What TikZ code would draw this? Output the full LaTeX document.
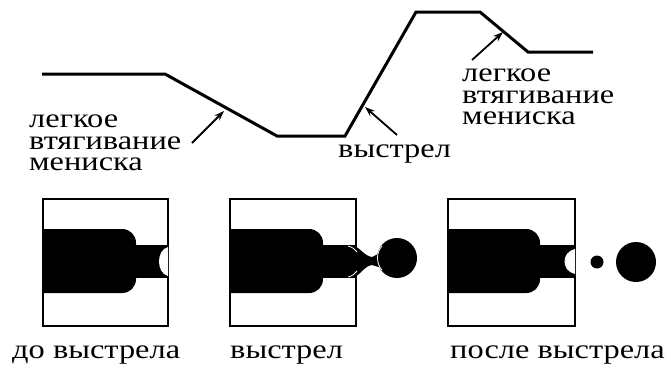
\documentclass[tikz,border=0pt]{standalone}
\usepackage{fontspec}
\setmainfont{Liberation Serif}
\usetikzlibrary{arrows.meta}

\begin{document}
\begin{tikzpicture}[x=1pt,y=-1pt,
  wave/.style={line width=3pt, line join=miter},
  pointer/.style={line width=1.8pt, -{Stealth[length=10pt,width=7pt]}},
  lbl/.style={font=\fontsize{27}{21.5}\selectfont, inner sep=0pt, align=left, xscale=1.2, transform shape},
  frame/.style={line width=2pt},
  ink/.style={fill=black, draw=none},
  gap/.style={fill=white, draw=none},
]
\useasboundingbox (0,0) rectangle (671,373);

% drive waveform
\coordinate (w0) at (42,74);
\coordinate (w1) at (165,74);
\coordinate (w2) at (277,136);
\coordinate (w3) at (345,136);
\coordinate (w4) at (416,12);
\coordinate (w5) at (480,12);
\coordinate (w6) at (528,52);
\coordinate (w7) at (593,52);
\draw[wave] (w0) -- (w1) -- (w2) -- (w3) -- (w4) -- (w5) -- (w6) -- (w7);

% labels of the waveform
\node[lbl, anchor=south west] (l1) at (29,171) {легкое\\втягивание\\мениска};
\node[lbl, anchor=base west]  (l2) at (338,157) {выстрел};
\node[lbl, anchor=south west] (l3) at (462,125) {легкое\\втягивание\\мениска};

\coordinate (t1) at (192,143);
\coordinate (h1) at (224,111);
\coordinate (t2) at (397,135);
\coordinate (h2) at (365,107);
\coordinate (t3) at (472,60);
\coordinate (h3) at (503,32);
\draw[pointer] (t1) -- (h1);
\draw[pointer] (t2) -- (h2);
\draw[pointer] (t3) -- (h3);

% frames
\node[frame, draw, minimum width=125pt, minimum height=127pt, inner sep=0pt, anchor=north west] (f1) at (42,198) {};
\node[frame, draw, minimum width=126pt, minimum height=127pt, inner sep=0pt, anchor=north west] (f2) at (229,198) {};
\node[frame, draw, minimum width=127pt, minimum height=127pt, inner sep=0pt, anchor=north west] (f3) at (447,198) {};

% nozzle 1: meniscus at rest
\fill[ink] (42,229) -- (122,229) .. controls (130,229) and (136,235) .. (136,243)
  -- (136,279) .. controls (136,287) and (130,293) .. (122,293) -- (42,293) -- cycle;
\fill[ink] (130,245) rectangle (167,278);
\fill[gap] (168,247) .. controls (156,250) and (156,273) .. (168,276) -- cycle;

% nozzle 2: ejection
\fill[ink] (229,229) -- (309,229) .. controls (317,229) and (323,235) .. (323,243)
  -- (323,279) .. controls (323,287) and (317,293) .. (309,293) -- (229,293) -- cycle;
\fill[ink] (317,245) rectangle (355,278);
\fill[ink] (352,245) .. controls (360,247) and (364,256) .. (372,257)
  -- (382,252) -- (382,268) -- (372,265)
  .. controls (364,266) and (360,276) .. (352,278) -- cycle;
\fill[ink] (397,258) circle[radius=20];
\draw[white, line width=0.8pt] (382,246) .. controls (376,252) and (376,264) .. (382,270);
\draw[white, line width=0.8pt] (348,246) .. controls (352,247) and (355,249) .. (357,252);
\draw[white, line width=0.8pt] (348,277) .. controls (352,276) and (355,274) .. (357,271);

% nozzle 3: after ejection
\fill[ink] (447,229) -- (526,229) .. controls (534,229) and (540,235) .. (540,243)
  -- (540,279) .. controls (540,287) and (534,293) .. (526,293) -- (447,293) -- cycle;
\fill[ink] (534,245) rectangle (574,278);
\fill[gap] (575,249) .. controls (561,252) and (561,271) .. (575,274) -- cycle;
\fill[ink] (597,262) circle[radius=6.5];
\fill[ink] (636,262) circle[radius=20];

% captions
\node[lbl, anchor=base west] (c1) at (12,358) {до выстрела};
\node[lbl, anchor=base west] (c2) at (230,358) {выстрел};
\node[lbl, anchor=base west] (c3) at (450,358) {после выстрела};
\end{tikzpicture}
\end{document}
